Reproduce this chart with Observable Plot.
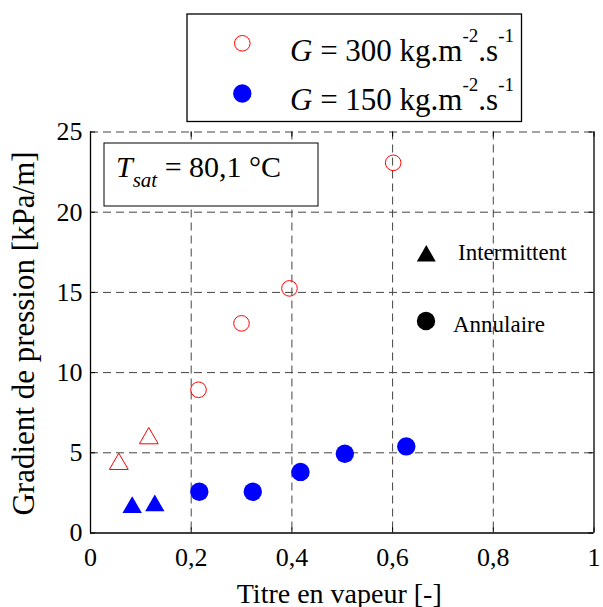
<!DOCTYPE html>
<html><head><meta charset="utf-8">
<script src="https://cdn.jsdelivr.net/npm/d3@7"></script>
<script src="https://cdn.jsdelivr.net/npm/@observablehq/plot@0.6"></script>
<style>body{margin:0;background:#fff} svg{display:block}</style>
</head><body><div id="chart"></div>
<script>
// Tick values
const xTicks = [0, 0.2, 0.4, 0.6, 0.8, 1];
const yTicks = [0, 5, 10, 15, 20, 25];
const gridX = [0.2, 0.4, 0.6, 0.8];
const gridY = [5, 10, 15, 20, 25];

// G = 300 kg.m-2.s-1 (red, open)
const g300AnnX = [0.2145, 0.2999, 0.3952, 0.6012];
const g300AnnY = [8.93, 13.07, 15.25, 23.08];
const g300IntX = [0.0562, 0.1158];
const g300IntY = [4.3, 5.9];

// G = 150 kg.m-2.s-1 (blue, filled)
const g150AnnX = [0.2161, 0.3223, 0.4171, 0.5051, 0.6272];
const g150AnnY = [2.57, 2.57, 3.81, 4.94, 5.40];
const g150IntX = [0.0828, 0.1277];
const g150IntY = [1.60, 1.70];

const toRows = (xs, ys) => xs.map((x, i) => ({x, y: ys[i]}));
const g300Ann = toRows(g300AnnX, g300AnnY);
const g300Int = toRows(g300IntX, g300IntY);
const g150Ann = toRows(g150AnnX, g150AnnY);
const g150Int = toRows(g150IntX, g150IntY);

const serif = "'Liberation Serif', 'Times New Roman', serif";
const fmt = d => String(d).replace(".", ",");
const gridStyle = {stroke: "#444", strokeDasharray: "8,5", strokeWidth: 1};

const plot = Plot.plot({
  width: 603, height: 607,
  marginLeft: 90, marginRight: 9.5, marginTop: 131.5, marginBottom: 74.5,
  style: {fontFamily: serif, fontSize: "26px", background: "white", color: "black"},
  x: {domain: [0, 1]},
  y: {domain: [0, 25]},
  marks: [
    Plot.ruleX(gridX, gridStyle),
    Plot.ruleY(gridY, gridStyle),
    Plot.ruleX(xTicks, {y1: 0, y2: 0.32, stroke: "black", strokeWidth: 1}),
    Plot.ruleX(xTicks, {y1: 25, y2: 24.68, stroke: "black", strokeWidth: 1}),
    Plot.ruleY(yTicks, {x1: 0, x2: 0.01, stroke: "black", strokeWidth: 1}),
    Plot.ruleY(yTicks, {x1: 0.99, x2: 1, stroke: "black", strokeWidth: 1}),
    Plot.ruleX([0, 1], {stroke: "black", strokeWidth: 1.3}),
    Plot.ruleY([0], {stroke: "black", strokeWidth: 1.3}),
    Plot.axisX(xTicks, {tickSize: 0, tickPadding: 15, tickFormat: fmt, fontSize: 26, label: null}),
    Plot.axisY(yTicks, {tickSize: 0, tickPadding: 8, fontSize: 26, label: null}),
    Plot.text(["Titre en vapeur [-]"], {frameAnchor: "bottom", textAnchor: "middle", lineAnchor: "bottom", dy: 69.5, dx: -3, fontSize: 28}),
    Plot.text(["Gradient de pression [kPa/m]"], {frameAnchor: "left", textAnchor: "middle", lineAnchor: "bottom", rotate: -90, dx: -57, dy: 1, fontSize: 31}),
    Plot.dot(g300Ann, {x: "x", y: "y", r: 7.8, stroke: "red", fill: "none", strokeWidth: 1}),
    Plot.dot(g300Int, {x: "x", y: "y", r: 7, symbol: "triangle", stroke: "red", fill: "none", strokeWidth: 1}),
    Plot.dot(g150Int, {x: "x", y: "y", r: 7.2, symbol: "triangle", stroke: "none", fill: "blue"}),
    Plot.dot(g150Ann, {x: "x", y: "y", r: 9.2, stroke: "none", fill: "blue"})
  ]
});

const svg = d3.select(plot);
// Top legend
const lg = svg.append("g").attr("font-family", serif).attr("text-anchor", "start");
lg.append("rect").attr("x", 187).attr("y", 14).attr("width", 334.5).attr("height", 107.5)
  .attr("fill", "white").attr("stroke", "black").attr("stroke-width", 1.3);
lg.append("circle").attr("cx", 242.3).attr("cy", 43.3).attr("r", 7.8)
  .attr("fill", "none").attr("stroke", "red").attr("stroke-width", 1);
lg.append("circle").attr("cx", 242.3).attr("cy", 93.5).attr("r", 9.2).attr("fill", "blue");
function legendText(y, val) {
  const t = lg.append("text").attr("x", 290).attr("y", y).attr("font-size", 31).attr("fill", "black");
  t.append("tspan").attr("font-style", "italic").text("G");
  t.append("tspan").text(" = " + val + " kg.m");
  t.append("tspan").attr("font-size", 19).attr("dy", -19).text("-2");
  t.append("tspan").attr("dy", 19).text(".s");
  t.append("tspan").attr("font-size", 19).attr("dy", -19).text("-1");
}
legendText(61, "300");
legendText(110, "150");

// T_sat annotation
const an = svg.append("g").attr("font-family", serif).attr("text-anchor", "start");
an.append("rect").attr("x", 104).attr("y", 143).attr("width", 214).attr("height", 63)
  .attr("fill", "white").attr("stroke", "black").attr("stroke-width", 1);
const tt = an.append("text").attr("x", 116).attr("y", 177).attr("font-size", 30).attr("fill", "black");
tt.append("tspan").attr("font-style", "italic").text("T");
tt.append("tspan").attr("font-style", "italic").attr("font-size", 21).attr("dy", 10).text("sat");
tt.append("tspan").attr("dy", -10).text(" = 80,1 °C");

// Regime legend
const rg = svg.append("g").attr("font-family", serif).attr("font-size", 23).attr("text-anchor", "start");
rg.append("path").attr("d", d3.symbol(d3.symbolTriangle, 155)()).attr("transform", "translate(426.3,256)").attr("fill", "black");
rg.append("text").attr("x", 458).attr("y", 259.5).text("Intermittent");
rg.append("circle").attr("cx", 426).attr("cy", 321).attr("r", 9.2).attr("fill", "black");
rg.append("text").attr("x", 453).attr("y", 331.7).text("Annulaire");

document.getElementById("chart").appendChild(plot);
</script>
</body></html>
